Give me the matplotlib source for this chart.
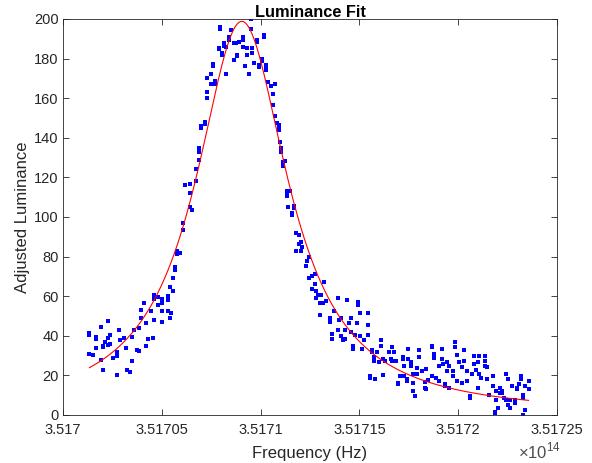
import numpy as np
import matplotlib
matplotlib.use('Agg')
import matplotlib.pyplot as plt

matplotlib.rcParams['font.family'] = ['Liberation Sans', 'DejaVu Sans']
matplotlib.rcParams['mathtext.fontset'] = 'custom'
matplotlib.rcParams['mathtext.rm'] = 'Liberation Sans'
matplotlib.rcParams['xtick.direction'] = 'in'
matplotlib.rcParams['ytick.direction'] = 'in'

# measured points: frequency offset from 3.517e14 Hz (in GHz) and luminance
base_freq = 3.517e14
freq_offset_ghz = [
    1.34, 1.34, 1.34, 1.53, 1.66, 1.66, 1.66, 1.91, 1.91, 2.05, 2.05, 2.05,
    2.14, 2.29, 2.29, 2.29, 2.39, 2.39, 2.52, 2.72, 2.72, 2.75, 2.81, 2.91,
    3.10, 3.19, 3.23, 3.38, 3.48, 3.48, 3.58, 3.77, 3.86, 3.86, 3.96, 3.96,
    4.11, 4.21, 4.21, 4.30, 4.44, 4.53, 4.63, 4.63, 4.63, 4.82, 4.82,
    5.01, 5.01, 5.01, 5.01, 5.30, 5.30, 5.30, 5.39, 5.39, 5.49, 5.58, 5.58,
    5.68, 5.68, 5.77, 5.77, 5.93, 6.06, 6.06, 6.16, 6.44, 6.44, 6.44, 6.54,
    6.73, 6.73, 6.86, 6.86, 6.86, 6.98, 6.98, 7.21, 7.21, 7.30, 7.30, 7.30,
    7.50, 7.50, 7.59, 7.59, 7.69, 7.69, 7.88, 7.88, 7.97, 7.97, 8.03, 8.03,
    8.16, 8.16, 8.26, 8.26, 8.41, 8.41, 8.49, 8.64, 8.64, 8.74, 8.83, 8.83,
    8.93, 9.12, 9.12, 9.12, 9.22, 9.31, 9.31, 9.41, 9.50, 9.50, 9.56, 9.56,
    9.69, 9.83, 9.83, 9.92, 9.92, 10.08, 10.08, 10.17, 10.17, 10.27, 10.27,
    10.27, 10.36, 10.52, 10.61, 10.61, 10.71, 10.75, 10.84, 10.94, 10.94,
    10.94, 10.98, 11.03, 11.03, 11.13, 11.13, 11.22, 11.32, 11.32, 11.32,
    11.41, 11.51, 11.61, 11.61, 11.70, 11.70, 11.80, 11.80, 11.95, 11.95,
    12.05, 12.05, 12.12, 12.28, 12.37, 12.47, 12.47, 12.62, 12.62, 12.75,
    12.75, 12.81, 12.81, 12.89, 13.00, 13.00, 13.08, 13.14, 13.23, 13.33,
    13.52, 13.52, 13.61, 13.61, 13.71, 13.90, 13.90, 13.96, 14.09, 14.09,
    14.19, 14.28, 14.28, 14.38, 14.47, 14.57, 14.57, 14.67, 14.67, 14.76,
    14.86, 14.95, 14.95, 15.05, 15.05, 15.14, 15.24, 15.43, 15.43, 15.43,
    15.53, 15.53, 15.62, 15.62, 15.72, 15.72, 15.81, 15.91, 16.00, 16.10,
    16.10, 16.20, 16.20, 16.29, 16.48, 16.58, 16.67, 16.67, 16.77, 16.86,
    16.96, 16.96, 17.06, 17.21, 17.21, 17.28, 17.28, 17.40, 17.40, 17.48,
    17.48, 17.63, 17.63, 17.72, 17.72, 17.72, 17.82, 17.82, 17.92, 17.92,
    18.01, 18.01, 18.15, 18.30, 18.30, 18.39, 18.39, 18.49, 18.68, 18.68,
    18.68, 18.78, 18.78, 18.87, 19.01, 19.01, 19.16, 19.16, 19.25, 19.35,
    19.35, 19.45, 19.45, 19.54, 19.54, 19.73, 19.73, 19.83, 19.83, 19.92,
    19.92, 20.02, 20.21, 20.21, 20.31, 20.31, 20.46, 20.46, 20.59, 20.59,
    20.69, 20.78, 20.78, 20.88, 20.98, 20.98, 21.07, 21.07, 21.17, 21.36,
    21.36, 21.36, 21.45, 21.45, 21.55, 21.74, 21.74, 21.84, 21.84, 21.93,
    21.93, 22.03, 22.12, 22.12, 22.22, 22.22, 22.31, 22.41, 22.41, 22.50,
    22.50, 22.60, 22.60, 22.70, 22.89, 22.89, 22.98, 22.98, 23.08, 23.17,
    23.17, 23.27, 23.27, 23.27, 23.37, 23.37, 23.56, 23.56,
]
luminance = [
    41.5, 40.6, 30.8, 30.5, 39.4, 38.6, 34.0, 44.6, 27.8, 34.6, 22.8, 34.3,
    36.8, 39.0, 35.5, 47.5, 35.8, 40.3, 28.6, 30.0, 20.2, 32.0, 43.0, 37.7,
    38.7, 34.0, 22.6, 21.8, 39.2, 27.4, 43.0, 32.6, 43.7, 32.4, 53.0, 48.8,
    56.6, 35.0, 46.3, 38.6, 52.3, 39.0, 60.8, 58.6, 48.0, 59.5, 55.7,
    56.6, 58.6, 52.3, 47.0, 60.0, 58.3, 52.3, 49.2, 64.6, 51.4, 69.0, 62.5,
    73.2, 74.6, 82.6, 81.4, 81.7, 93.4, 96.8, 116.0, 112.0, 116.5, 105.0, 103.7,
    118.0, 124.0, 129.0, 133.0, 135.0, 145.0, 146.0, 147.0, 148.0, 160.0, 163.0, 170.0,
    172.0, 167.0, 176.5, 177.4, 168.8, 167.4, 185.0, 185.4, 196.0, 195.0, 181.7, 183.0,
    187.7, 186.3, 172.2, 186.0, 189.4, 191.0, 194.5, 187.7, 179.4, 187.7, 182.0, 181.5,
    188.5, 191.0, 189.4, 186.0, 176.5, 182.0, 185.5, 172.2, 195.0, 200.0, 185.5, 183.0,
    177.9, 188.5, 189.4, 177.0, 175.6, 179.0, 180.0, 191.0, 192.0, 177.0, 174.0,
    175.6, 168.0, 166.0, 162.0, 156.8, 167.0, 150.8, 147.7, 144.0, 145.7,
    146.5, 138.0, 135.0, 132.8, 127.7, 126.0, 128.5, 113.0, 112.0, 110.5,
    105.0, 113.0, 102.0, 101.0, 104.5, 105.3, 92.0, 83.0, 90.8, 86.5,
    87.4, 83.0, 85.0, 75.4, 78.0, 79.7, 69.4, 70.3, 63.4, 66.0,
    71.0, 62.6, 59.0, 60.5, 50.6, 56.6, 60.5, 56.6, 67.4, 57.8,
    49.0, 47.0, 41.0, 38.5, 52.3, 59.0, 43.0, 48.0, 48.8, 40.0,
    37.7, 43.0, 38.6, 58.3, 46.3, 49.2, 42.0, 35.0, 33.4, 40.3,
    46.3, 55.7, 56.9, 51.4, 40.0, 33.4, 37.7, 51.4, 45.4, 40.3,
    19.7, 18.8, 31.7, 32.6, 29.5, 27.4, 18.0, 31.7, 26.6, 37.7,
    35.0, 20.0, 28.3, 27.4, 31.7, 28.3, 27.4, 34.3, 31.7, 27.4,
    16.3, 15.4, 19.7, 28.3, 29.1, 24.8, 19.7, 18.0, 17.1, 28.3,
    33.4, 26.6, 24.8, 20.6, 16.3, 12.0, 9.8, 9.4, 23.5, 20.6,
    32.6, 29.1, 22.3, 16.6, 13.7, 23.1, 13.2, 17.7, 19.7, 35.0,
    34.3, 30.8, 28.6, 18.8, 24.8, 17.1, 33.4, 28.3, 25.7, 15.4,
    14.6, 26.6, 22.3, 24.8, 13.7, 19.7, 22.3, 36.8, 34.3, 17.1,
    30.3, 26.6, 24.0, 16.3, 32.6, 27.4, 22.3, 17.1, 9.4, 8.6,
    20.6, 29.6, 25.7, 22.8, 13.7, 26.6, 20.6, 30.0, 18.8, 30.0,
    27.4, 24.8, 24.0, 18.0, 10.3, 19.7, 14.6, 1.7, 0.9, 7.7,
    12.0, 3.4, 13.7, 11.1, 12.0, 11.1, 8.6, 20.6, 7.7, 18.0,
    5.0, 3.4, 7.7, 14.6, 7.7, 6.0, 12.9, 13.7, 15.4, 19.7,
    18.0, 0.0, 8.6, 10.3, 14.6, 2.6, 17.1, 12.9,
]

# Lorentzian fit parameters
fit_peak = 198.8
fit_center_ghz = 9.05
fit_halfwidth_ghz = 2.85

freq = base_freq + np.array(freq_offset_ghz) * 1e9
lum = np.array(luminance)

fit_x = np.linspace(freq.min(), freq.max(), 400)
d = (fit_x - base_freq) / 1e9 - fit_center_ghz
fit_y = fit_peak * fit_halfwidth_ghz**2 / (fit_halfwidth_ghz**2 + d**2)

fig = plt.figure(figsize=(5.92, 4.63), dpi=100)
ax = fig.add_axes([0.1064, 0.1037, 0.8345, 0.8553])

# x plotted in units of 1e14 Hz, multiplier drawn separately
ax.plot(freq / 1e14, lum, 's', color='blue', markersize=2.3, markeredgewidth=0)
ax.plot(fit_x / 1e14, fit_y, '-', color='red', linewidth=0.8)

ax.set_xlim(3.517, 3.51725)
ax.set_ylim(0, 200)
xt = [3.517, 3.51705, 3.5171, 3.51715, 3.5172, 3.51725]
ax.set_xticks(xt)
ax.set_xticklabels(['{:g}'.format(v) for v in xt])
ax.set_yticks(np.arange(0, 201, 20))

axcol = (0.15, 0.15, 0.15)
for s in ax.spines.values():
    s.set_color(axcol)
    s.set_linewidth(0.6)
ax.tick_params(colors=axcol, labelsize=10.5, length=4, width=0.6,
               top=True, right=True)
ax.tick_params(axis='x', pad=6)
ax.tick_params(axis='y', pad=3)

ax.set_title('Luminance Fit', fontsize=11.8, fontweight='bold', pad=1.5)
ax.set_xlabel('Frequency (Hz)', fontsize=12, color=axcol, labelpad=6)
ax.set_ylabel('Adjusted Luminance', fontsize=12, color=axcol, labelpad=3)
fig.text(561 / 592, 2 / 463, r'$\times10^{14}$', ha='right', va='bottom',
         fontsize=12, color=(0.3, 0.3, 0.3))

plt.savefig('out.png', dpi=100)
